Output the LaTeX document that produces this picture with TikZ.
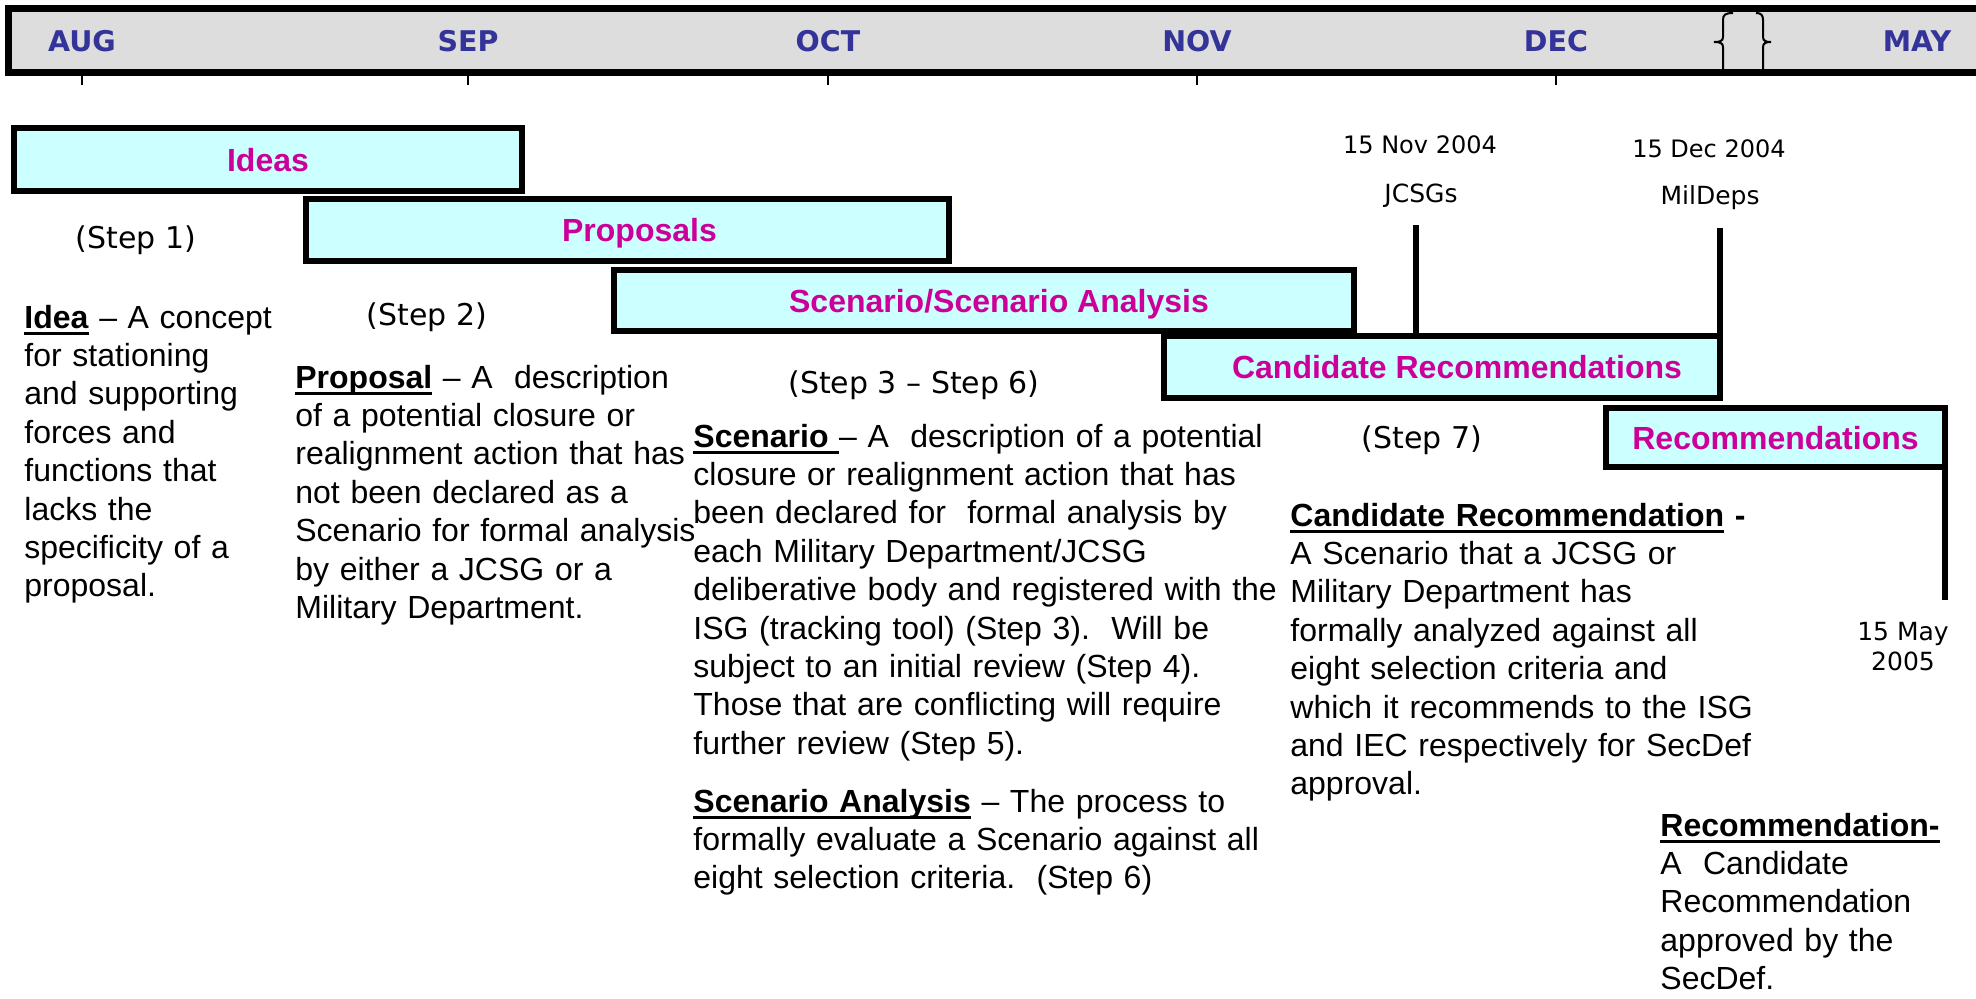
\documentclass[tikz,border=0pt]{standalone}
\usepackage{fontspec}
\setmainfont{Liberation Sans}
\newfontfamily\comicfont{DejaVu Sans}
\usepackage{xcolor}
\definecolor{barfill}{RGB}{204,255,255}
\definecolor{barpink}{RGB}{204,0,153}
\definecolor{monthblue}{RGB}{51,51,153}
\definecolor{axisgrey}{RGB}{221,221,221}
\newcommand{\undr}[1]{\leavevmode\setbox0=\hbox{#1}\rlap{\rule[-3.4pt]{\wd0}{1.5pt}}\box0\relax}

\begin{document}
\begin{tikzpicture}[x=0.5pt,y=-0.5pt,
    month/.style={font=\comicfont\bfseries\fontsize{14.25}{17}\selectfont,text=monthblue,anchor=base,inner sep=0pt},
    bar/.style={draw=black,line width=2.75pt,fill=barfill,text=barpink,font=\bfseries\fontsize{16}{19}\selectfont,text height=11.5pt,text depth=0pt,inner sep=0pt,outer sep=0pt},
    steplabel/.style={font=\comicfont\fontsize{15}{18}\selectfont,anchor=base,inner sep=0pt},
    datelabel/.style={font=\comicfont\fontsize{12}{14}\selectfont,anchor=base,inner sep=0pt},
    whonode/.style={font=\comicfont\fontsize{12.5}{15}\selectfont,anchor=base,inner sep=0pt},
    defn/.style={font=\fontsize{16}{19.2}\selectfont,anchor=base west,align=left,inner sep=0pt},
    milestone/.style={line width=2.75pt},
    tick/.style={line width=1pt},
    brace/.style={line width=1pt}]
      \useasboundingbox (0,0) rectangle (1976,998);
      % time axis
      \draw [line width=3.5pt,fill=axisgrey] (8,8.5) rectangle (2000,72);
      \coordinate (axisbot) at (0,71);
      \coordinate (ticklow) at (0,85);
      \node[month] (aug) at (82,51) {AUG};
      \node[month] (sep) at (468,51) {SEP};
      \node[month] (oct) at (828,51) {OCT};
      \node[month] (nov) at (1197,51) {NOV};
      \node[month] (dec) at (1556,51) {DEC};
      \node[month] (may) at (1917,51) {MAY};
      \foreach \m in {aug,sep,oct,nov,dec}
        \draw[tick] (\m |- axisbot) -- (\m |- ticklow);
      % break in the axis
      \draw[brace] (1733,13) .. controls (1725,13) and (1723,15) .. (1723,20) -- (1723,37)
        .. controls (1723,41) and (1720,42) .. (1714,42) .. controls (1720,42) and (1723,43) .. (1723,47) -- (1723,69);
      \draw[brace] (1756,13) .. controls (1761,13) and (1763,15) .. (1763,20) -- (1763,37)
        .. controls (1763,41) and (1766,42) .. (1771,42) .. controls (1766,42) and (1763,43) .. (1763,47) -- (1763,69);
      % phases
      \node[bar,minimum width=254pt,minimum height=31.5pt] (ideas) at (268,159.5) {Ideas};
      \node[bar,minimum width=321.5pt,minimum height=31pt] (props) at (627.5,230) {\hspace*{12pt}Proposals};
      \node[bar,minimum width=370pt,minimum height=30.5pt] (scen) at (984,300.5) {\hspace*{15pt}Scenario/Scenario Analysis};
      \node[bar,minimum width=278pt,minimum height=31pt] (cand) at (1442,367) {\hspace*{15pt}Candidate Recommendations};
      \node[bar,minimum width=169.5pt,minimum height=29.5pt] (recs) at (1775.5,437.5) {Recommendations};
      % deadlines
      \coordinate (jcsgtop) at (1416,225);
      \coordinate (mildtop) at (1720,228);
      \coordinate (mayend) at (1945,600);
      \draw[milestone] (jcsgtop) -- (jcsgtop |- cand.north);
      \draw[milestone] (mildtop) -- (cand.north east);
      \draw[milestone] (recs.south east) -- (mayend);
      \node[datelabel] (novdate) at (1420,153) {15 Nov 2004};
      \node[whonode] (jcsg) at (1421,202) {JCSGs};
      \node[datelabel] (decdate) at (1709,157) {15 Dec 2004};
      \node[whonode] (mild) at (1710,204) {MilDeps};
      \node[whonode] (maydate) at (1903,640) {15 May};
      \node[whonode] (mayyear) at (1903,670) {2005};
      % steps
      \node[steplabel] (step1) at (136,248) {(Step 1)};
      \node[steplabel] (step2) at (427,325) {(Step 2)};
      \node[steplabel] (step36) at (914,393) {(Step 3 – Step 6)};
      \node[steplabel] (step7) at (1422,448) {(Step 7)};
      % definitions
      \node[defn,text width=135pt] (ideadef) at (24,328) {\undr{\textbf{Idea}} -- A concept\\ for stationing\\ and supporting\\ forces and\\ functions that\\ lacks the\\ specificity of a\\ proposal.};
      \node[defn,text width=205pt] (propdef) at (295,388) {\undr{\textbf{Proposal}} -- A\ \ description\\ of a potential closure or\\ realignment action that has\\ not been declared as a\\ Scenario for formal analysis\\ by either a JCSG or a\\ Military Department.};
      \node[defn,text width=295pt] (scendef) at (693,447) {\undr{\textbf{Scenario}\ }-- A\ \ description of a potential\\ closure or realignment action that has\\ been declared for\ \ formal analysis by\\ each Military Department/JCSG\\ deliberative body and registered with the\\ ISG (tracking tool) (Step 3).\ \ Will be\\ subject to an initial review (Step 4).\\ Those that are conflicting will require\\ further review (Step 5).};
      \node[defn,text width=295pt] (anadef) at (693,812) {\undr{\textbf{Scenario Analysis}} -- The process to\\ formally evaluate a Scenario against all\\ eight selection criteria.\ \ (Step 6)};
      \node[defn,text width=235pt] (canddef) at (1290,526) {\undr{\textbf{Candidate Recommendation}} \textbf{-}\\ A Scenario that a JCSG or\\ Military Department has\\ formally analyzed against all\\ eight selection criteria and\\ which it recommends to the ISG\\ and IEC respectively for SecDef\\ approval.};
      \node[defn,text width=150pt] (recdef) at (1660,836) {\undr{\textbf{Recommendation-}}\\ A\ \ Candidate\\ Recommendation\\ approved by the\\ SecDef.};
\end{tikzpicture}
\end{document}
